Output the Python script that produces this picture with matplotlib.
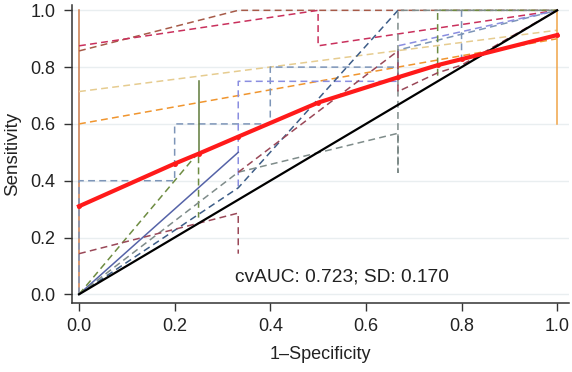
import numpy as np
import matplotlib
matplotlib.use("Agg")
import matplotlib.pyplot as plt

plt.rcParams['font.family'] = ['Liberation Sans', 'DejaVu Sans']

nan = np.nan

# per-fold ROC curves (1-specificity, sensitivity)
sienna_x = [0, 0]
sienna_y = [0, 1.0]
brown_x = [0, 0.333, 1.0]
brown_y = [0.857, 1.0, 1.0]
crimson_x = [0, 0.5, 0.5, 1.0]
crimson_y = [0.875, 1.0, 0.875, 1.0]
khaki_x = [0, 1.0]
khaki_y = [0.714, 0.93]
orange_x = [0, 1.0]
orange_y = [0.6, 0.9]
orange_bar_x = [1.0, 1.0]
orange_bar_y = [0.6, 1.0]
slate_x = [0, 0, 0.2, 0.2, 0.4, 0.4, 0.667, 0.667, 1.0, nan, 0.8, 0.8]
slate_y = [0, 0.4, 0.4, 0.6, 0.6, 0.8, 0.8, 0.86, 1.0, nan, 0.82, 1.0]
periwinkle_x = [0.333, 0.333, 0.667, 0.667, 1.0]
periwinkle_y = [0.38, 0.75, 0.75, 0.875, 1.0]
blue_x = [0, 0.333]
blue_y = [0, 0.5]
teal_x = [0, 0.333, 0.667]
teal_y = [0, 0.375, 1.0]
olive_x = [0, 0.25, 0.25, nan, 0.75, 0.75, 1.0]
olive_y = [0, 0.5, 0.27, nan, 0.77, 1.0, 1.0]
olive_bar_x = [0.25, 0.25]
olive_bar_y = [0.5, 0.75]
grey_x = [0, 0.333, 0.667, 0.667, 0.667, 1.0]
grey_y = [0, 0.43, 0.567, 0.43, 1.0, 1.0]
brownred_x = [0, 0.333, 0.333, nan, 0.333, 0.667, 0.667, 0.75, 0.8, 1.0]
brownred_y = [0.143, 0.286, 0.143, nan, 0.43, 0.857, 0.714, 0.78, 0.807, 1.0]

# averaged curve
mean_x = [0, 0.2, 0.25, 0.333, 0.5, 0.667, 0.75, 0.8, 1.0]
mean_y = [0.31, 0.46, 0.495, 0.555, 0.675, 0.764, 0.807, 0.828, 0.913]

cv_auc = 0.723
cv_sd = 0.170

fig = plt.figure(figsize=(5.72, 3.72), dpi=100)
ax = fig.add_axes([0.125, 0.1855, 0.870, 0.801])

for yv in np.arange(0, 1.01, 0.2):
    ax.axhline(yv, color='#e9eef0', lw=1.0, zorder=0)

dash = (4.5, 2.8)
fold_curves = [
    (sienna_x, sienna_y, '#c9794a', '-'),
    (brown_x, brown_y, '#a65a48', '--'),
    (crimson_x, crimson_y, '#c9305c', '--'),
    (khaki_x, khaki_y, '#e6cc90', '--'),
    (orange_x, orange_y, '#f0952e', '--'),
    (orange_bar_x, orange_bar_y, '#f0a448', '-'),
    (slate_x, slate_y, '#7d95b8', '--'),
    (periwinkle_x, periwinkle_y, '#8a8ee0', '--'),
    (blue_x, blue_y, '#5563a8', '-'),
    (teal_x, teal_y, '#3d5d88', '--'),
    (olive_x, olive_y, '#6e8c42', '--'),
    (olive_bar_x, olive_bar_y, '#5f7a3a', '-'),
    (grey_x, grey_y, '#7f8c8a', '--'),
    (brownred_x, brownred_y, '#9a4858', '--'),
]
for xs, ys, col, ls in fold_curves:
    line, = ax.plot(xs, ys, color=col, lw=1.1, ls=ls, zorder=2)
    if ls == '--':
        line.set_dashes(dash)

ax.plot([0, 1], [0, 1], color='black', lw=1.6, zorder=3)
ax.plot(mean_x, mean_y, color='#ff1a1a', lw=3, marker='o', ms=2.5, zorder=4)

ax.text(0.55, 0.06, f"cvAUC: {cv_auc:.3f}; SD: {cv_sd:.3f}",
        ha='center', va='center', fontsize=13.8, color='#222222')

ax.set_xlim(-0.0157, 1.025)
ax.set_ylim(-0.0306, 1.0187)
ax.set_xticks(np.arange(0, 1.01, 0.2))
ax.set_yticks(np.arange(0, 1.01, 0.2))
ax.set_xticklabels([f"{v:.1f}" for v in np.arange(0, 1.01, 0.2)])
ax.set_yticklabels([f"{v:.1f}" for v in np.arange(0, 1.01, 0.2)])
ax.tick_params(direction='out', length=5.5, width=1, color='#333333',
               labelsize=13, labelcolor='#222222')
ax.tick_params(axis='y', pad=6)
ax.tick_params(axis='x', pad=5)
ax.set_xlabel("1\u2013Specificity", fontsize=13, color='#222222', labelpad=8)
ax.set_ylabel("Sensitivity", fontsize=13.5, color='#222222', labelpad=7)

for side in ['top', 'right']:
    ax.spines[side].set_visible(False)
for side in ['left', 'bottom']:
    ax.spines[side].set_color('#333333')
    ax.spines[side].set_linewidth(1.1)

fig.savefig("out.png", dpi=100)
